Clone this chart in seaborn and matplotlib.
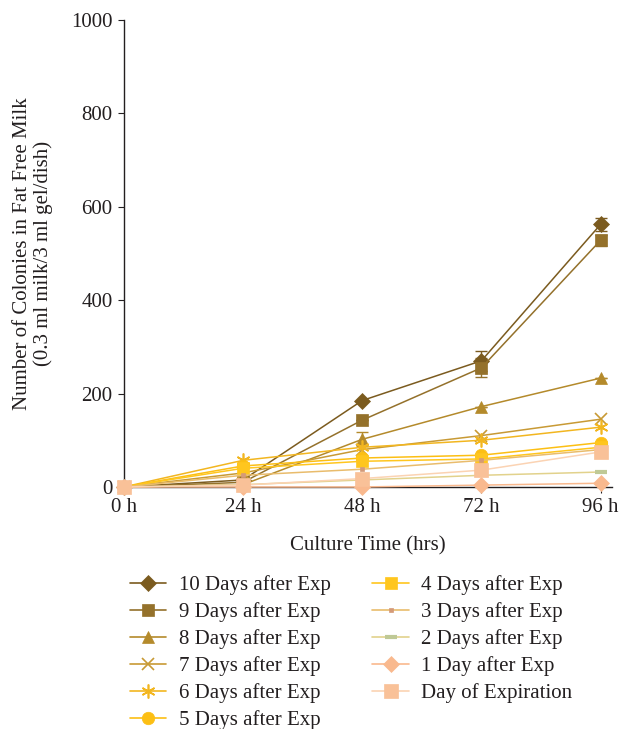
import matplotlib
matplotlib.use("Agg")
import matplotlib.pyplot as plt
from matplotlib.lines import Line2D
import seaborn as sns
import pandas as pd

# Culture time points (hours) and their tick labels
hours = [0, 24, 48, 72, 96]
hour_labels = ["0 h", "24 h", "48 h", "72 h", "96 h"]

# Colony counts for each milk sample (days relative to expiration)
days10 = [0, 15, 185, 270, 562]
days9 = [0, 10, 143, 255, 528]
days8 = [0, 5, 102, 172, 233]
days7 = [0, 30, 80, 110, 145]
days6 = [0, 57, 85, 100, 128]
days5 = [0, 45, 62, 68, 95]
days4 = [0, 40, 55, 60, 85]
days3 = [0, 25, 38, 57, 80]
days2 = [0, 5, 15, 25, 32]
days1 = [0, 0, 0, 4, 8]
day0 = [0, 4, 18, 36, 75]

# Standard deviations shown as error bars
err10 = [0, 0, 0, 22, 14]
err9 = [0, 0, 0, 20, 12]
err8 = [0, 0, 15, 0, 0]

series_names = [
    "10 Days after Exp", "9 Days after Exp", "8 Days after Exp",
    "7 Days after Exp", "6 Days after Exp", "5 Days after Exp",
    "4 Days after Exp", "3 Days after Exp", "2 Days after Exp",
    "1 Day after Exp", "Day of Expiration",
]
series_values = [days10, days9, days8, days7, days6, days5,
                 days4, days3, days2, days1, day0]
series_errors = {"10 Days after Exp": err10, "9 Days after Exp": err9,
                 "8 Days after Exp": err8}

# color, marker, size, face, edge, edge width
styles = {
    "10 Days after Exp": ("#7b5b1f", "D", 8, "#7b5b1f", "#7b5b1f", 0.5),
    "9 Days after Exp": ("#94712b", "s", 9, "#94712b", "#94712b", 0.5),
    "8 Days after Exp": ("#b48a2b", "^", 9, "#b48a2b", "#b48a2b", 0.5),
    "7 Days after Exp": ("#c89a35", "x", 9, "#c89a35", "#c89a35", 1.2),
    "6 Days after Exp": ("#f2b620", (6, 2, 0), 10, "#f2b620", "#f2b620", 1.2),
    "5 Days after Exp": ("#fcbf14", "o", 9, "#fcbf14", "#fcbf14", 0.5),
    "4 Days after Exp": ("#ffc61e", "s", 9, "#ffc61e", "#ffc61e", 0.5),
    "3 Days after Exp": ("#e9bc6c", "s", 3.5, "#d49a78", "#d49a78", 0.5),
    "2 Days after Exp": ("#e2d28c", "_", 9, "#bfc996", "#bfc996", 3.0),
    "1 Day after Exp": ("#f9b98e", "D", 8, "#f9b98e", "#f9b98e", 0.5),
    "Day of Expiration": ("#fbd3b3", "s", 10, "#f9c198", "#f9c198", 0.5),
}

rows = []
for name, vals in zip(series_names, series_values):
    for h, v in zip(hours, vals):
        rows.append({"Culture Time": h, "Colonies": v, "Sample": name})
df = pd.DataFrame(rows)

sns.set_theme(style="ticks")
plt.rcParams["font.family"] = ["Liberation Serif", "DejaVu Serif"]
FS = 15
TXT = "#231f20"

fig = plt.figure(figsize=(6.22, 7.29), dpi=100)
ax = fig.add_axes([0.199, 0.332, 0.785, 0.641])

for name in series_names:
    color, marker, ms, mfc, mec, mew = styles[name]
    sub = df[df["Sample"] == name]
    sns.lineplot(data=sub, x="Culture Time", y="Colonies", ax=ax,
                 color=color, marker=marker, markersize=ms,
                 markerfacecolor=mfc, markeredgecolor=mec, markeredgewidth=mew,
                 linewidth=1.1, legend=False, clip_on=False, zorder=3)
    if name in series_errors:
        ax.errorbar(hours, series_values[series_names.index(name)],
                    yerr=series_errors[name], fmt="none",
                    ecolor=color, elinewidth=1.0, capsize=4, zorder=2)

ax.set_xlim(0, 98.3)
ax.set_ylim(0, 1000)
ax.set_xticks(hours)
ax.set_xticklabels(hour_labels)
ax.set_yticks(range(0, 1001, 200))
ax.tick_params(axis="both", labelsize=FS, length=4, width=0.8, color=TXT,
               labelcolor=TXT, pad=4)
for side in ("top", "right"):
    ax.spines[side].set_visible(False)
for side in ("left", "bottom"):
    ax.spines[side].set_linewidth(1.0)
    ax.spines[side].set_color(TXT)
    ax.spines[side].set_zorder(1)
ax.set_xlabel("Culture Time (hrs)", fontsize=FS, color=TXT, labelpad=14)
ax.set_ylabel("Number of Colonies in Fat Free Milk\n(0.3 ml milk/3 ml gel/dish)",
              fontsize=FS, color=TXT, labelpad=13, linespacing=1.1)

# Legend: two columns, six entries then four
handles = []
for name in series_names:
    color, marker, ms, mfc, mec, mew = styles[name]
    handles.append(Line2D([0], [0], color=color, marker=marker, markersize=ms,
                          markerfacecolor=mfc, markeredgecolor=mec,
                          markeredgewidth=mew, linewidth=1.2))
labels = list(series_names)
handles.append(Line2D([0], [0], alpha=0))
labels.append("")
fig.legend(handles, labels, ncol=2, loc="upper left", bbox_to_anchor=(0.209, 0.211),
           frameon=False, fontsize=FS, handlelength=1.75, handletextpad=0.6,
           labelspacing=0.34, columnspacing=2.0, labelcolor=TXT,
           borderaxespad=0, borderpad=0)

fig.savefig("out.png", dpi=100)
